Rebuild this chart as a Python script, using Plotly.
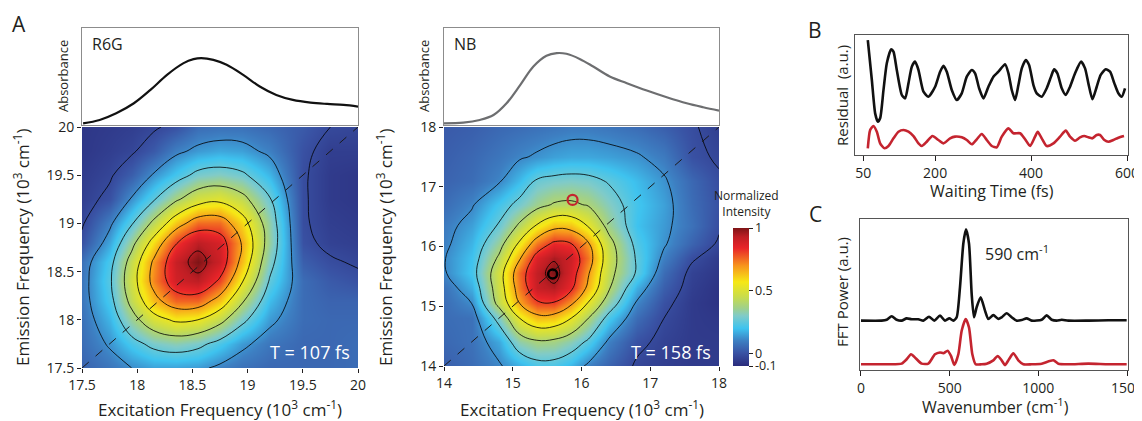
import plotly.graph_objects as go

# page body has an 8 px margin: figure starts at (8, 8) and runs to the window edge
PAD = 8
W, H = 1142 - PAD, 421 - PAD
def fx(px):
    return (px - PAD) / W
def fy(py):
    return 1 - (py - PAD) / H

FONT = "Open Sans"
INK = "#231f20"

# ---------------- Absorbance spectra (A, top) ----------------
r6g_abs_freq = [17.51, 17.66, 17.81, 17.97, 18.12, 18.27, 18.42, 18.51, 18.58, 18.69, 18.81,
                18.96, 19.11, 19.26, 19.41, 19.57, 19.72, 19.87, 20.0]
r6g_abs_val = [0.017, 0.052, 0.121, 0.224, 0.362, 0.517, 0.638, 0.679, 0.690, 0.672, 0.621,
               0.517, 0.397, 0.310, 0.259, 0.231, 0.217, 0.207, 0.190]
nb_abs_freq = [14.0, 14.28, 14.52, 14.72, 14.91, 15.11, 15.30, 15.49, 15.64, 15.78, 15.98,
               16.17, 16.41, 16.66, 16.95, 17.24, 17.53, 17.77, 18.0]
nb_abs_val = [0.017, 0.024, 0.052, 0.103, 0.224, 0.414, 0.603, 0.714, 0.741, 0.734, 0.679,
              0.603, 0.500, 0.431, 0.355, 0.286, 0.224, 0.183, 0.148]

# ---------------- 2D spectra (A, bottom) ----------------
r6g_exc = [17.5, 17.75, 17.95, 18.15, 18.35, 18.55, 18.75, 18.95, 19.2, 19.5, 19.75, 20.0]
r6g_emi = [17.5, 17.75, 18.0, 18.2, 18.4, 18.6, 18.8, 19.0, 19.25, 19.5, 19.75, 20.0]
r6g_map = [
    [0.04, 0.08, 0.12, 0.15, 0.15, 0.14, 0.10, 0.07, 0.05, 0.05, 0.05, 0.06],
    [0.06, 0.13, 0.22, 0.29, 0.32, 0.29, 0.22, 0.14, 0.08, 0.05, 0.05, 0.06],
    [0.07, 0.18, 0.35, 0.49, 0.56, 0.54, 0.44, 0.29, 0.14, 0.06, 0.05, 0.05],
    [0.08, 0.22, 0.44, 0.64, 0.76, 0.76, 0.63, 0.42, 0.19, 0.06, 0.04, 0.04],
    [0.08, 0.24, 0.48, 0.72, 0.89, 0.93, 0.80, 0.55, 0.25, 0.06, 0.02, 0.00],
    [0.07, 0.22, 0.45, 0.70, 0.91, 1.00, 0.90, 0.64, 0.30, 0.03, -0.01, -0.03],
    [0.00, 0.16, 0.36, 0.59, 0.81, 0.93, 0.88, 0.67, 0.34, 0.00, -0.04, -0.05],
    [-0.03, 0.10, 0.25, 0.43, 0.62, 0.75, 0.75, 0.60, 0.33, -0.01, -0.05, -0.06],
    [-0.05, 0.00, 0.13, 0.25, 0.38, 0.48, 0.51, 0.44, 0.27, -0.01, -0.06, -0.07],
    [-0.06, -0.03, 0.03, 0.13, 0.21, 0.29, 0.31, 0.28, 0.18, -0.01, -0.06, -0.07],
    [-0.07, -0.05, -0.03, 0.02, 0.10, 0.14, 0.16, 0.15, 0.10, 0.00, -0.05, -0.05],
    [-0.07, -0.06, -0.05, -0.03, 0.00, 0.06, 0.07, 0.07, 0.05, 0.02, -0.02, -0.03],
]

nb_exc = [14.0, 14.4, 14.8, 15.1, 15.35, 15.6, 15.85, 16.1, 16.4, 16.8, 17.2, 17.6, 18.0]
nb_emi = [14.0, 14.4, 14.8, 15.05, 15.3, 15.55, 15.8, 16.05, 16.35, 16.7, 17.1, 17.5, 18.0]
nb_map = [
    [0.03, 0.06, 0.11, 0.17, 0.22, 0.22, 0.18, 0.10, 0.04, -0.03, -0.05, -0.06, -0.06],
    [0.05, 0.07, 0.16, 0.33, 0.38, 0.37, 0.32, 0.24, 0.10, 0.00, -0.04, -0.06, -0.06],
    [0.06, 0.07, 0.30, 0.54, 0.64, 0.63, 0.54, 0.40, 0.22, 0.06, -0.02, -0.06, -0.07],
    [0.06, 0.12, 0.44, 0.68, 0.80, 0.81, 0.70, 0.53, 0.33, 0.11, 0.00, -0.06, -0.08],
    [0.07, 0.17, 0.47, 0.74, 0.91, 0.94, 0.84, 0.65, 0.41, 0.17, 0.03, -0.05, -0.08],
    [0.11, 0.21, 0.48, 0.76, 0.92, 1.00, 0.88, 0.69, 0.44, 0.25, 0.06, -0.04, -0.07],
    [0.115, 0.20, 0.42, 0.67, 0.87, 0.95, 0.90, 0.74, 0.46, 0.25, 0.10, -0.01, -0.06],
    [0.10, 0.18, 0.35, 0.56, 0.74, 0.84, 0.82, 0.69, 0.44, 0.23, 0.13, 0.04, -0.03],
    [0.09, 0.15, 0.27, 0.42, 0.55, 0.64, 0.63, 0.53, 0.36, 0.20, 0.14, 0.07, -0.01],
    [0.06, 0.11, 0.21, 0.29, 0.36, 0.41, 0.42, 0.39, 0.31, 0.21, 0.15, 0.06, 0.00],
    [0.04, 0.06, 0.11, 0.19, 0.27, 0.29, 0.30, 0.29, 0.25, 0.19, 0.13, 0.05, -0.01],
    [0.03, 0.05, 0.08, 0.11, 0.13, 0.15, 0.16, 0.16, 0.15, 0.13, 0.09, 0.00, -0.03],
    [0.02, 0.03, 0.05, 0.06, 0.07, 0.08, 0.09, 0.09, 0.08, 0.06, 0.03, -0.01, -0.05],
]

r6g_range = [17.5, 20.0]
nb_range = [14.0, 18.0]
r6g_ticks = [17.5, 18, 18.5, 19, 19.5, 20]
r6g_ticktext = ["17.5", "18", "18.5", "19", "19.5", "20"]
nb_ticks = [14, 15, 16, 17, 18]
nb_ticktext = ["14", "15", "16", "17", "18"]

nb_peak_x, nb_peak_y = [15.58], [15.54]
nb_red_x, nb_red_y = [15.87], [16.78]

cbar_ticks = [-0.1, 0, 0.5, 1]
cbar_text = ["-0.1", "0", "0.5", "1"]

# ---------------- B: residuals ----------------
b_time_black = [59.7, 68.1, 75.0, 80.6, 85.4, 92.4, 99.3, 108.3, 113.2, 120.1, 130.6, 137.5, 144.4,
                151.4, 158.3, 165.3, 175.7, 186.1, 200.0, 210.4, 217.4, 224.3, 234.7, 245.1, 255.5,
                266.0, 276.4, 283.3, 291.7, 300.7, 311.1, 321.5, 331.9, 345.8, 352.8, 359.7, 366.7,
                373.6, 380.6, 388.9, 395.8, 404.9, 411.8, 422.2, 432.6, 441.6, 447.9, 454.8, 463.9,
                472.2, 481.2, 491.7, 504.2, 512.5, 519.4, 527.8, 536.8, 545.1, 555.6, 564.6, 573.6,
                581.9, 588.9, 595.8]
b_resid_black = [0.958, 0.625, 0.347, 0.278, 0.306, 0.542, 0.764, 0.881, 0.861, 0.708, 0.500, 0.472,
                 0.597, 0.736, 0.778, 0.708, 0.528, 0.486, 0.569, 0.694, 0.744, 0.694, 0.542, 0.458,
                 0.514, 0.653, 0.708, 0.681, 0.556, 0.472, 0.569, 0.653, 0.694, 0.756, 0.681, 0.542,
                 0.458, 0.583, 0.722, 0.792, 0.750, 0.583, 0.514, 0.486, 0.556, 0.653, 0.714, 0.681,
                 0.556, 0.500, 0.569, 0.681, 0.778, 0.722, 0.597, 0.464, 0.569, 0.667, 0.714, 0.694,
                 0.597, 0.514, 0.486, 0.556]
b_time_red = [59.7, 64.6, 71.5, 78.5, 85.4, 94.4, 102.8, 113.2, 123.6, 134.0, 144.4, 154.9, 165.3,
              172.2, 182.6, 194.4, 206.9, 217.4, 231.2, 241.7, 255.5, 266.0, 276.4, 286.8, 297.2,
              307.6, 318.1, 328.5, 338.9, 352.8, 363.2, 377.1, 387.5, 397.9, 408.3, 413.9, 422.2,
              432.6, 446.5, 460.4, 472.2, 481.2, 491.7, 502.1, 511.1, 519.4, 527.8, 536.8, 543.7,
              552.8, 561.1, 571.5, 581.9, 593.7]
b_resid_red = [0.056, 0.208, 0.242, 0.194, 0.097, 0.056, 0.075, 0.139, 0.194, 0.208, 0.194, 0.158,
               0.097, 0.075, 0.111, 0.158, 0.125, 0.097, 0.139, 0.153, 0.147, 0.125, 0.089, 0.131,
               0.175, 0.125, 0.075, 0.064, 0.153, 0.222, 0.181, 0.181, 0.131, 0.075, 0.153, 0.194,
               0.139, 0.075, 0.097, 0.153, 0.203, 0.153, 0.119, 0.147, 0.158, 0.147, 0.139, 0.167,
               0.167, 0.125, 0.111, 0.125, 0.144, 0.158]
b_ticks = [50, 200, 400, 600]

# ---------------- C: FFT power ----------------
c_wn_black = [0, 116.5, 144.7, 172.9, 201.1, 229.3, 257.5, 285.7, 323.3, 351.5, 383.5, 413.5, 445.5,
              473.7, 498.1, 520.7, 539.5, 558.3, 577.1, 592.1, 609.0, 624.1, 637.2, 652.3, 674.8,
              699.3, 718.0, 746.2, 774.4, 793.2, 821.4, 849.6, 877.8, 906.0, 934.2, 962.4, 1018.8,
              1047.0, 1075.2, 1103.4, 1131.6, 1169.2, 1282.0, 1394.7, 1498.1]
c_pow_black = [0.327, 0.327, 0.333, 0.356, 0.333, 0.327, 0.342, 0.336, 0.336, 0.327, 0.353, 0.327,
               0.360, 0.327, 0.342, 0.327, 0.349, 0.549, 0.838, 0.931, 0.838, 0.504, 0.349, 0.416,
               0.482, 0.393, 0.338, 0.364, 0.338, 0.349, 0.376, 0.349, 0.327, 0.331, 0.342, 0.327,
               0.333, 0.362, 0.333, 0.327, 0.333, 0.327, 0.327, 0.329, 0.329]
c_wn_red = [0, 154.1, 229.3, 257.5, 282.0, 308.3, 342.1, 379.7, 417.3, 445.5, 464.3, 488.7, 507.5,
            526.3, 548.9, 567.7, 590.2, 609.0, 627.8, 646.6, 680.4, 708.7, 746.2, 770.7, 793.2,
            812.0, 834.6, 859.0, 887.2, 915.4, 962.4, 1018.8, 1084.6, 1112.8, 1169.2, 1282.0,
            1394.7, 1498.1]
c_pow_red = [0.038, 0.038, 0.042, 0.071, 0.104, 0.078, 0.042, 0.042, 0.104, 0.116, 0.111, 0.127,
             0.093, 0.033, 0.104, 0.260, 0.338, 0.282, 0.104, 0.038, 0.038, 0.042, 0.064, 0.093,
             0.064, 0.033, 0.071, 0.111, 0.064, 0.038, 0.038, 0.042, 0.064, 0.042, 0.038, 0.042,
             0.038, 0.038]
c_ticks = [0, 500, 1000, 1500]

# ---------------- colours ----------------
BLACK = "#111111"
GRAY_LINE = "#6d6e70"
RED = "#c4242f"
cmap = [
    [0.000, "#2a2c7c"],
    [0.091, "#3951a3"],
    [0.182, "#3d7fc2"],
    [0.273, "#3ec3ef"],
    [0.364, "#80cbc8"],
    [0.418, "#9fd08c"],
    [0.500, "#c8dc4c"],
    [0.609, "#f6e815"],
    [0.727, "#f7941d"],
    [0.855, "#e82429"],
    [0.936, "#be1e24"],
    [1.000, "#7e1416"],
]

fig = go.Figure()

# absorbance spectra
fig.add_trace(go.Scatter(x=r6g_abs_freq, y=r6g_abs_val, mode="lines",
                         line=dict(color=BLACK, width=2.2, shape="spline"),
                         xaxis="x", yaxis="y", showlegend=False, hoverinfo="skip"))
fig.add_trace(go.Scatter(x=nb_abs_freq, y=nb_abs_val, mode="lines",
                         line=dict(color=GRAY_LINE, width=2.2, shape="spline"),
                         xaxis="x3", yaxis="y3", showlegend=False, hoverinfo="skip"))

contour_levels = dict(start=-0.02, end=0.97, size=0.14, coloring="heatmap", showlines=True)

fig.add_trace(go.Contour(x=r6g_exc, y=r6g_emi, z=r6g_map, colorscale=cmap, zmin=-0.1, zmax=1,
                         zauto=False, contours=contour_levels,
                         line=dict(color="black", width=0.8, smoothing=1.2),
                         showscale=False, xaxis="x2", yaxis="y2", hoverinfo="skip"))
fig.add_trace(go.Scatter(x=r6g_range, y=r6g_range, mode="lines",
                         line=dict(color="#1a1a1a", width=1, dash="dash"),
                         xaxis="x2", yaxis="y2", showlegend=False, hoverinfo="skip"))

fig.add_trace(go.Contour(x=nb_exc, y=nb_emi, z=nb_map, colorscale=cmap, zmin=-0.1, zmax=1,
                         zauto=False, contours=contour_levels,
                         line=dict(color="black", width=0.8, smoothing=1.2),
                         showscale=False, xaxis="x4", yaxis="y4", hoverinfo="skip"))
fig.add_trace(go.Scatter(x=nb_range, y=nb_range, mode="lines",
                         line=dict(color="#1a1a1a", width=1, dash="dash"),
                         xaxis="x4", yaxis="y4", showlegend=False, hoverinfo="skip"))
fig.add_trace(go.Scatter(x=nb_peak_x, y=nb_peak_y, mode="markers",
                         marker=dict(symbol="circle-open", size=9, color="black",
                                     line=dict(width=2.6, color="black")),
                         xaxis="x4", yaxis="y4", showlegend=False, hoverinfo="skip"))
fig.add_trace(go.Scatter(x=nb_red_x, y=nb_red_y, mode="markers",
                         marker=dict(symbol="circle-open", size=10, color=RED,
                                     line=dict(width=2.2, color=RED)),
                         xaxis="x4", yaxis="y4", showlegend=False, hoverinfo="skip"))

# colorbar carrier
fig.add_trace(go.Scatter(x=[None], y=[None], mode="markers", xaxis="x4", yaxis="y4",
                         showlegend=False, hoverinfo="skip",
                         marker=dict(color=[0], colorscale=cmap, cmin=-0.1, cmax=1, showscale=True,
                                     colorbar=dict(x=fx(733), xanchor="left", y=fy(366),
                                                   yanchor="bottom", len=138 / H, lenmode="fraction",
                                                   thickness=16, thicknessmode="pixels",
                                                   tickvals=cbar_ticks, ticktext=cbar_text,
                                                   ticks="outside", ticklen=4, tickcolor=INK,
                                                   tickfont=dict(size=12.5, color=INK, family=FONT),
                                                   outlinewidth=0, xpad=0, ypad=0))))

# B
fig.add_trace(go.Scatter(x=b_time_black, y=b_resid_black, mode="lines",
                         line=dict(color=BLACK, width=2.6, shape="spline", smoothing=0.6),
                         xaxis="x5", yaxis="y5", showlegend=False, hoverinfo="skip"))
fig.add_trace(go.Scatter(x=b_time_red, y=b_resid_red, mode="lines",
                         line=dict(color=RED, width=2.6, shape="spline", smoothing=0.6),
                         xaxis="x5", yaxis="y5", showlegend=False, hoverinfo="skip"))
# C
fig.add_trace(go.Scatter(x=c_wn_black, y=c_pow_black, mode="lines",
                         line=dict(color=BLACK, width=2.6, shape="spline", smoothing=0.6),
                         xaxis="x6", yaxis="y6", showlegend=False, hoverinfo="skip"))
fig.add_trace(go.Scatter(x=c_wn_red, y=c_pow_red, mode="lines",
                         line=dict(color=RED, width=2.6, shape="spline", smoothing=0.6),
                         xaxis="x6", yaxis="y6", showlegend=False, hoverinfo="skip"))

tickfont = dict(size=14, color=INK, family=FONT)
box_abs = dict(showline=True, mirror=True, linecolor="#8c8c8c", linewidth=1, showgrid=False,
               zeroline=False, ticks="", showticklabels=False, fixedrange=True, automargin=False)
box_bc = dict(showline=True, mirror=True, linecolor="#555555", linewidth=1, showgrid=False,
              zeroline=False, fixedrange=True, automargin=False)
map_ax = dict(showline=False, showgrid=False, zeroline=False, ticks="outside", ticklen=4,
              tickwidth=1, tickcolor=INK, tickfont=tickfont, fixedrange=True, automargin=False)

fig.update_layout(
    width=W, height=H, margin=dict(l=0, r=0, t=0, b=0, autoexpand=False),
    paper_bgcolor="white", plot_bgcolor="white",
    font=dict(family=FONT, color=INK),
    showlegend=False,
    xaxis=dict(domain=[fx(82), fx(358)], anchor="y", range=r6g_range, **box_abs),
    yaxis=dict(domain=[fy(125), fy(28)], anchor="x", range=[0, 1], **box_abs),
    xaxis2=dict(domain=[fx(82), fx(358)], anchor="y2", range=r6g_range, tickvals=r6g_ticks,
                ticktext=r6g_ticktext, **map_ax),
    yaxis2=dict(domain=[fy(368), fy(127)], anchor="x2", range=r6g_range, tickvals=r6g_ticks,
                ticktext=r6g_ticktext, **map_ax),
    xaxis3=dict(domain=[fx(444), fx(719)], anchor="y3", range=nb_range, **box_abs),
    yaxis3=dict(domain=[fy(125), fy(28)], anchor="x3", range=[0, 1], **box_abs),
    xaxis4=dict(domain=[fx(444), fx(719)], anchor="y4", range=nb_range, tickvals=nb_ticks,
                ticktext=nb_ticktext, **map_ax),
    yaxis4=dict(domain=[fy(366), fy(127)], anchor="x4", range=nb_range, tickvals=nb_ticks,
                ticktext=nb_ticktext, **map_ax),
    xaxis5=dict(domain=[fx(855), fx(1128)], anchor="y5", range=[33, 602], tickvals=b_ticks,
                ticks="outside", ticklen=5, tickcolor=INK, tickfont=tickfont,
                ticklabeloverflow="allow", **box_bc),
    yaxis5=dict(domain=[fy(155), fy(35)], anchor="x5", range=[0, 1], ticks="",
                showticklabels=False, **box_bc),
    xaxis6=dict(domain=[fx(860), fx(1128)], anchor="y6", range=[-5.6, 1505.6], tickvals=c_ticks,
                ticks="outside", ticklen=5, tickcolor=INK, tickfont=tickfont,
                ticklabeloverflow="allow", **box_bc),
    yaxis6=dict(domain=[fy(370), fy(219)], anchor="x6", range=[0, 1], ticks="",
                showticklabels=False, **box_bc),
)

def ann(text, px, py, size, xanchor="center", yanchor="middle", angle=0, color=INK):
    return dict(text=text, x=fx(px), y=fy(py), xref="paper", yref="paper", showarrow=False,
                xanchor=xanchor, yanchor=yanchor, textangle=angle,
                font=dict(size=size, color=color, family=FONT))

annotations = [
    ann("A", 19, 24, 21),
    ann("B", 815, 30, 21),
    ann("C", 815, 214, 21),
    ann("R6G", 90, 44, 16, xanchor="left"),
    ann("NB", 452, 44, 16, xanchor="left"),
    ann("Absorbance", 63, 76, 13, angle=-90),
    ann("Absorbance", 424, 76, 13, angle=-90),
    ann("Emission Frequency (10<sup>3</sup> cm<sup>-1</sup>)", 22, 248, 17, angle=-90),
    ann("Emission Frequency (10<sup>3</sup> cm<sup>-1</sup>)", 385, 248, 17, angle=-90),
    ann("Excitation Frequency (10<sup>3</sup> cm<sup>-1</sup>)", 220, 408, 17),
    ann("Excitation Frequency (10<sup>3</sup> cm<sup>-1</sup>)", 582, 408, 17),
    ann("T = 107 fs", 352, 352, 18, xanchor="right", color="white"),
    ann("T = 158 fs", 713, 352, 18, xanchor="right", color="white"),
    ann("Normalized<br>Intensity", 746, 203, 12),
    ann("Residual  (a.u.)", 842, 96, 15, angle=-90),
    ann("Waiting Time (fs)", 992, 191, 16),
    ann("FFT Power (a.u.)", 842, 292, 15, angle=-90),
    ann("Wavenumber (cm<sup>-1</sup>)", 995, 406, 16),
    ann("590 cm<sup>-1</sup>", 983, 253, 16, xanchor="left"),
]
fig.update_layout(annotations=annotations)

fig.write_html("out.html")
